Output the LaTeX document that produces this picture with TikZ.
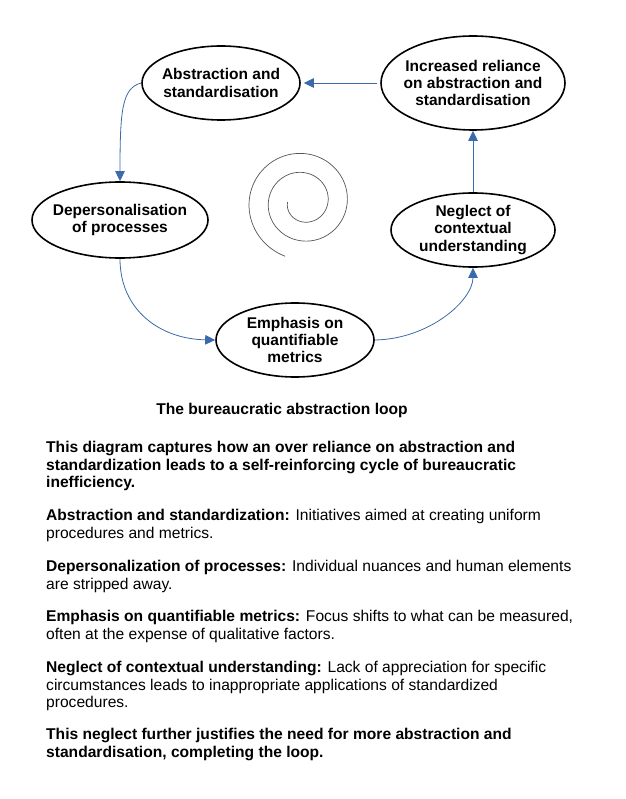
\documentclass[tikz,border=0pt]{standalone}
\usepackage{fontspec}
\setmainfont{Liberation Sans}
\usetikzlibrary{shapes.geometric,arrows.meta}
\definecolor{arrowblue}{RGB}{59,106,170}
\definecolor{spiralgray}{RGB}{85,85,85}
\begin{document}
\begin{tikzpicture}[x=1pt,y=-1pt,
  loopnode/.style={ellipse, draw=black, line width=1.6pt, inner xsep=-30pt, inner ysep=-6pt, align=center, font=\fontsize{15.5}{17.4}\selectfont\bfseries},
  flow/.style={draw=arrowblue, line width=0.8pt, -{Triangle[length=10pt,width=9.5pt]}},
  para/.style={anchor=north west, inner sep=0pt, align=left, font=\fontsize{15.6}{17.6}\selectfont},
  titletext/.style={inner sep=0pt, font=\fontsize{15.6}{18}\selectfont\bfseries}
]
\useasboundingbox (0,0) rectangle (625,799);
\node[loopnode, minimum width=158pt, minimum height=74pt] (A) at (221,83) {Abstraction and\\standardisation};
\node[loopnode, minimum width=184pt, minimum height=94pt] (B) at (473,83) {Increased reliance\\on abstraction and\\standardisation};
\node[loopnode, minimum width=176pt, minimum height=76pt] (C) at (120,220) {Depersonalisation\\of processes};
\node[loopnode, minimum width=164pt, minimum height=74pt] (D) at (473,230) {Neglect of\\contextual\\understanding};
\node[loopnode, minimum width=158pt, minimum height=74pt] (E) at (295,340) {Emphasis on\\quantifiable\\metrics};
\draw[spiralgray, line width=0.7pt] plot[domain=180:972, samples=230, smooth, variable=\t] ({303 + (5.75+0.0535*\t)*cos(\t)}, {202 - (5.75+0.0528*\t)*sin(\t)});
\draw[flow, shorten <=3pt, shorten >=3pt] (B.west) -- (A.east);
\draw[flow] (A.west) .. controls (122,88) and (120,110) .. (C.north);
\draw[flow] (C.south) .. controls (120,310) and (160,339) .. (E.west);
\draw[flow] (E.east) .. controls (430,339) and (473,300) .. (D.south);
\draw[flow] (D.north) -- (B.south);
\node[titletext] (title) at (282,410) {The bureaucratic abstraction loop};
\node[para, font=\fontsize{15.6}{17.6}\selectfont\bfseries] (p1) at (46,441) {This diagram captures how an over reliance on abstraction and\\standardization leads to a self-reinforcing cycle of bureaucratic\\inefficiency.};
\node[para] (p2) at (46,509) {\textbf{Abstraction and standardization:} Initiatives aimed at creating uniform\\procedures and metrics.};
\node[para] (p3) at (46,560) {\textbf{Depersonalization of processes:} Individual nuances and human elements\\are stripped away.};
\node[para] (p4) at (46,610) {\textbf{Emphasis on quantifiable metrics:} Focus shifts to what can be measured,\\often at the expense of qualitative factors.};
\node[para] (p5) at (46,661) {\textbf{Neglect of contextual understanding:} Lack of appreciation for specific\\circumstances leads to inappropriate applications of standardized\\procedures.};
\node[para, font=\fontsize{15.6}{17.6}\selectfont\bfseries] (p6) at (46,728) {This neglect further justifies the need for more abstraction and\\standardisation, completing the loop.};
\end{tikzpicture}
\end{document}
